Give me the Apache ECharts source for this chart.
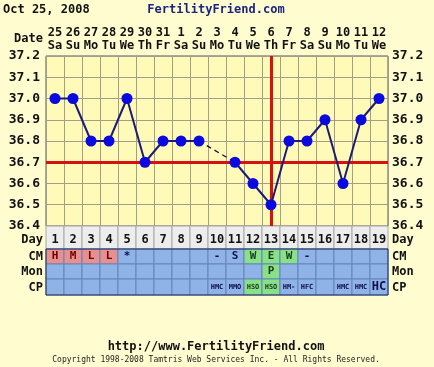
<!DOCTYPE html>
<html><head><meta charset="utf-8">
<script src="https://cdn.jsdelivr.net/npm/echarts@6/dist/echarts.min.js"></script>
<style>html,body{margin:0;padding:0;background:#fffdd0}#c{width:434px;height:367px}</style>
</head><body><div id="c"></div>
<script>
const cycleDays = ['1','2','3','4','5','6','7','8','9','10','11','12','13','14','15','16','17','18','19'];
const dateNums = ['25','26','27','28','29','30','31','1','2','3','4','5','6','7','8','9','10','11','12'];
const weekdays = ['Sa','Su','Mo','Tu','We','Th','Fr','Sa','Su','Mo','Tu','We','Th','Fr','Sa','Su','Mo','Tu','We'];
const temps = [37.0,37.0,36.8,36.8,37.0,36.7,36.8,36.8,36.8,null,36.7,36.6,36.5,36.8,36.8,36.9,36.6,36.9,37.0];
const coverline = 36.7;
const ovulationDay = 13;
const cmCodes = ['H','M','L','L','*','','','','','-','S','W','E','W','-','','','',''];
const cmFlags = ['r','r','r','r','','','','','','','','g','g','g','','','','',''];
const monCodes = ['','','','','','','','','','','','','P','','','','','',''];
const monFlags = ['','','','','','','','','','','','','g','','','','','',''];
const cpCodes = ['','','','','','','','','','HMC','MMO','HSO','HSO','HM-','HFC','','HMC','HMC','HC'];
const cpFlags = ['','','','','','','','','','','','g','g','','','','','',''];

const gapTemps = temps.map((v, i) => (v !== null && (temps[i+1] === null || temps[i-1] === null)) ? v : null);

const MONO = '"DejaVu Sans Mono", monospace';
const rowHeights = [23, 15, 15, 16];
const tableRows = [
  {codes: cycleDays, flags: null},
  {codes: cmCodes, flags: cmFlags},
  {codes: monCodes, flags: monFlags},
  {codes: cpCodes, flags: cpFlags, small: true}
];
const fills = {'': '#8fb3e6', 'r': '#e89090', 'g': '#88e088'};

const chart = echarts.init(document.getElementById('c'), null, {renderer: 'canvas'});

const yLabel = {
  fontFamily: MONO, fontWeight: 'bold', fontSize: 13, color: '#111',
  formatter: v => v.toFixed(1)
};

function renderTable(params, api) {
  const i = api.value(0);
  const cx = api.coord([i, 0])[0];
  const w = api.size([1, 0])[0];
  const cs = params.coordSys;
  const x0 = cx - w / 2;
  let y = cs.y;
  const children = [];
  tableRows.forEach((row, r) => {
    const h = rowHeights[r];
    const flag = row.flags ? row.flags[i] : null;
    const fill = row.flags ? fills[flag] : '#ededed';
    const stroke = row.flags ? '#6585bb' : '#a8a8a8';
    children.push({type: 'rect', shape: {x: x0, y: y, width: w, height: h},
      style: {fill: fill, stroke: stroke, lineWidth: 1}});
    const txt = row.codes[i];
    if (txt) {
      let size = 12, color = '#111';
      if (row.flags) {
        size = 11;
        color = flag === 'r' ? '#6a0000' : (flag === 'g' ? '#1d3d1d' : '#0d1050');
      }
      if (row.small) size = txt.length > 2 ? 7 : 12;
      children.push({type: 'text', style: {
        text: txt, x: cx, y: y + h / 2 + (r === 0 ? 2 : 0), align: 'center', verticalAlign: 'middle',
        font: 'bold ' + size + 'px ' + MONO, fill: color}});
    }
    y += h;
  });
  return {type: 'group', children: children};
}

const sideLabels = [['Day', 240], ['CM', 257], ['Mon', 272], ['CP', 288]];
const graphics = [
  {type: 'text', left: 3, top: 4, style: {text: 'Oct 25, 2008', font: 'bold 12px ' + MONO, fill: '#111'}},
  {type: 'text', x: 216, y: 10, style: {text: 'FertilityFriend.com', font: 'bold 12px ' + MONO, fill: '#1a2580', align: 'center', verticalAlign: 'middle'}},
  {type: 'text', x: 43, y: 39, style: {text: 'Date', font: 'bold 12px ' + MONO, fill: '#111', align: 'right', verticalAlign: 'middle'}},
  {type: 'text', x: 216, y: 347, style: {text: 'http://www.FertilityFriend.com', font: 'bold 12px ' + MONO, fill: '#111', align: 'center', verticalAlign: 'middle'}},
  {type: 'text', x: 216, y: 360, style: {text: 'Copyright 1998-2008 Tamtris Web Services Inc. - All Rights Reserved.', font: '8px ' + MONO, fill: '#222', align: 'center', verticalAlign: 'middle'}},
  {type: 'rect', shape: {x: 46, y: 249, width: 342, height: 46}, style: {fill: 'none', stroke: '#22305a', lineWidth: 1}, z: 100}
];
sideLabels.forEach(([t, yy]) => {
  graphics.push({type: 'text', x: 43, y: yy, style: {text: t, font: 'bold 12px ' + MONO, fill: '#111', align: 'right', verticalAlign: 'middle'}});
  graphics.push({type: 'text', x: 392, y: yy, style: {text: t, font: 'bold 12px ' + MONO, fill: '#111', align: 'left', verticalAlign: 'middle'}});
});

chart.setOption({
  backgroundColor: '#fffdd0',
  animation: false,
  grid: [
    {left: 46, top: 56, width: 342, height: 170, show: true, backgroundColor: '#fffab8', borderColor: '#555', borderWidth: 1},
    {left: 46, top: 226, width: 342, height: 69}
  ],
  xAxis: [
    {type: 'category', gridIndex: 0, position: 'top', data: dateNums, boundaryGap: true,
      axisLine: {show: false}, axisTick: {show: false},
      axisLabel: {interval: 0, margin: 4, lineHeight: 13, fontFamily: MONO, fontWeight: 'bold', fontSize: 12, color: '#111',
        formatter: (v, i) => v + '\n' + weekdays[i]},
      splitLine: {show: true, interval: 0, lineStyle: {color: '#a19f8c', width: 1}}},
    {type: 'category', gridIndex: 1, data: cycleDays, show: false}
  ],
  yAxis: [
    {type: 'value', gridIndex: 0, min: 36.4, max: 37.2, interval: 0.1, position: 'left',
      axisLine: {show: false}, axisTick: {show: false}, axisLabel: Object.assign({margin: 6}, yLabel),
      splitLine: {show: true, lineStyle: {color: '#a19f8c', width: 1}}},
    {type: 'value', gridIndex: 0, min: 36.4, max: 37.2, interval: 0.1, position: 'right',
      axisLine: {show: false}, axisTick: {show: false}, axisLabel: Object.assign({margin: 4}, yLabel),
      splitLine: {show: false}},
    {type: 'value', gridIndex: 1, min: 0, max: 1, show: false}
  ],
  series: [
    {type: 'line', xAxisIndex: 0, yAxisIndex: 0, data: [], z: 2,
      markLine: {silent: true, symbol: 'none', label: {show: false},
        lineStyle: {color: '#d81010', width: 3, type: 'solid'},
        data: [{yAxis: coverline}, {xAxis: ovulationDay - 1}]}},
    {type: 'line', xAxisIndex: 0, yAxisIndex: 0, data: gapTemps, connectNulls: true, symbol: 'none', z: 3,
      lineStyle: {color: '#111133', width: 1.3, type: [5, 4]}},
    {type: 'line', xAxisIndex: 0, yAxisIndex: 0, data: temps, connectNulls: false, z: 5,
      symbol: 'circle', symbolSize: 11,
      itemStyle: {color: '#0a0ae0', borderWidth: 0},
      lineStyle: {color: '#1c1c78', width: 2}},
    {type: 'custom', xAxisIndex: 1, yAxisIndex: 2, data: cycleDays.map((d, i) => [i]), renderItem: renderTable, z: 4}
  ],
  graphic: graphics
});
</script></body></html>
